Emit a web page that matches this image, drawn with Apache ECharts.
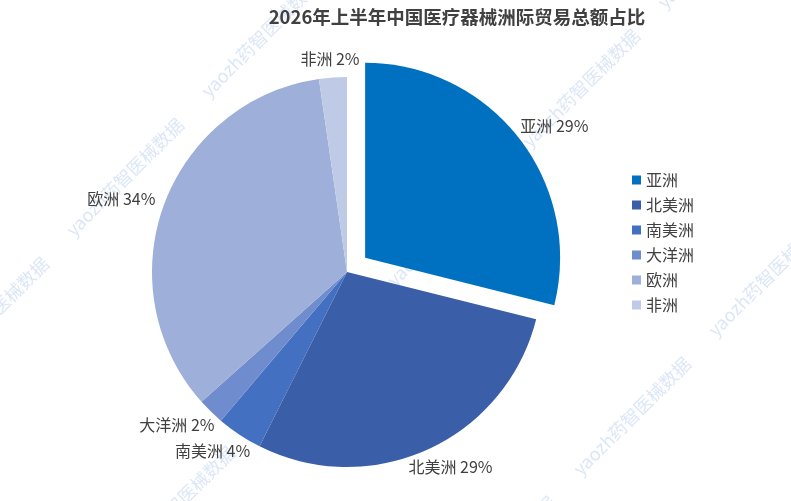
<!DOCTYPE html>
<html><head><meta charset="utf-8">
<script src="https://cdn.jsdelivr.net/npm/echarts@6/dist/echarts.min.js"></script>
<style>html,body{margin:0;padding:0;background:#fff}#c{width:791px;height:501px}</style>
</head><body><div id="c"></div>
<script>
var titleText = '2026年上半年中国医疗器械洲际贸易总额占比';
var categories = ['亚洲', '北美洲', '南美洲', '大洋洲', '欧洲', '非洲'];
var shares = [28.9, 28.5, 3.8, 2.2, 34.3, 2.3];
var colors = ['#0070C0', '#3A5EA8', '#4470C2', '#6F8CCF', '#9EAFD9', '#BFCAE6'];
var explodedIndex = 0;
var watermark = 'yaozh药智医械数据';

var CX = 347, CY = 272, R = 195, OFFSET = 23, GAP = 11;

var total = shares.reduce(function (a, b) { return a + b; }, 0);
var midAngles = [];
(function () {
  var acc = 0;
  for (var k = 0; k < shares.length; k++) {
    midAngles.push((acc + shares[k] / 2) / total * 2 * Math.PI);
    acc += shares[k];
  }
})();
var ex = OFFSET * Math.sin(midAngles[explodedIndex]);
var ey = -OFFSET * Math.cos(midAngles[explodedIndex]);

function labelPos(cx, cy, a, rect) {
  var ux = Math.sin(a), uy = -Math.cos(a);
  return {
    x: cx + (R + GAP) * ux + ux * rect.width / 2,
    y: cy + (R + GAP) * uy + uy * rect.height / 2,
    align: 'center', verticalAlign: 'middle'
  };
}

var chart = echarts.init(document.getElementById('c'), null, {renderer: 'canvas'});

var wm = [];
for (var i = -3; i <= 4; i++) {
  for (var j = -2; j <= 4; j++) {
    var x = 125 + i * 135 + j * 186;
    var y = 177 - i * 139 + j * 189;
    if (x < -120 || x > 900 || y < -120 || y > 620) continue;
    wm.push({
      type: 'text', x: x, y: y, rotation: Math.PI / 4, z: -10,
      style: {text: watermark, fill: 'rgba(175,200,238,0.45)', font: '18px "Noto Sans CJK SC"', align: 'center', verticalAlign: 'middle'}
    });
  }
}

var labelBase = {
  show: true, position: 'outside',
  formatter: function (p) { return p.name + ' ' + Math.round(p.percent) + '%'; },
  fontSize: 16, color: '#404040', fontFamily: 'Noto Sans CJK SC'
};
var hidden = {itemStyle: {opacity: 0}, label: {show: false}, emphasis: {disabled: true}};

// exploded slice series (only the exploded category visible)
var explodedData = [];
var restData = [];
categories.forEach(function (c, k) {
  if (k === explodedIndex) {
    explodedData.push({name: c, value: shares[k], itemStyle: {color: colors[k]}});
    restData.push(Object.assign({name: '', value: shares[k]}, hidden));
  } else {
    explodedData.push(Object.assign({name: '', value: shares[k]}, hidden));
    restData.push({name: c, value: shares[k], itemStyle: {color: colors[k]}});
  }
});

var common = {
  type: 'pie', radius: [0, R], startAngle: 90, clockwise: true,
  animation: false, avoidLabelOverlap: false, label: labelBase,
  labelLine: {show: false, length: 10, length2: 0}
};

chart.setOption({
  backgroundColor: '#fff',
  title: {
    text: titleText, left: 452, top: 3, textAlign: 'center',
    textStyle: {fontSize: 18.5, fontWeight: 'bold', color: '#404040', fontFamily: 'Noto Sans CJK SC'}
  },
  legend: {
    orient: 'vertical', left: 627, top: 167, itemWidth: 9, itemHeight: 9, itemGap: 9,
    icon: 'rect',
    textStyle: {fontSize: 16, color: '#404040', fontFamily: 'Noto Sans CJK SC'},
    data: categories
  },
  graphic: wm,
  series: [
    Object.assign({}, common, {
      name: 'exploded', center: [CX + ex, CY + ey], data: explodedData,
      labelLayout: function (p) { return labelPos(CX + ex, CY + ey, midAngles[p.dataIndex], p.labelRect); }
    }),
    Object.assign({}, common, {
      name: 'rest', center: [CX, CY], data: restData,
      labelLayout: function (p) { return labelPos(CX, CY, midAngles[p.dataIndex], p.labelRect); }
    })
  ]
});
</script></body></html>
